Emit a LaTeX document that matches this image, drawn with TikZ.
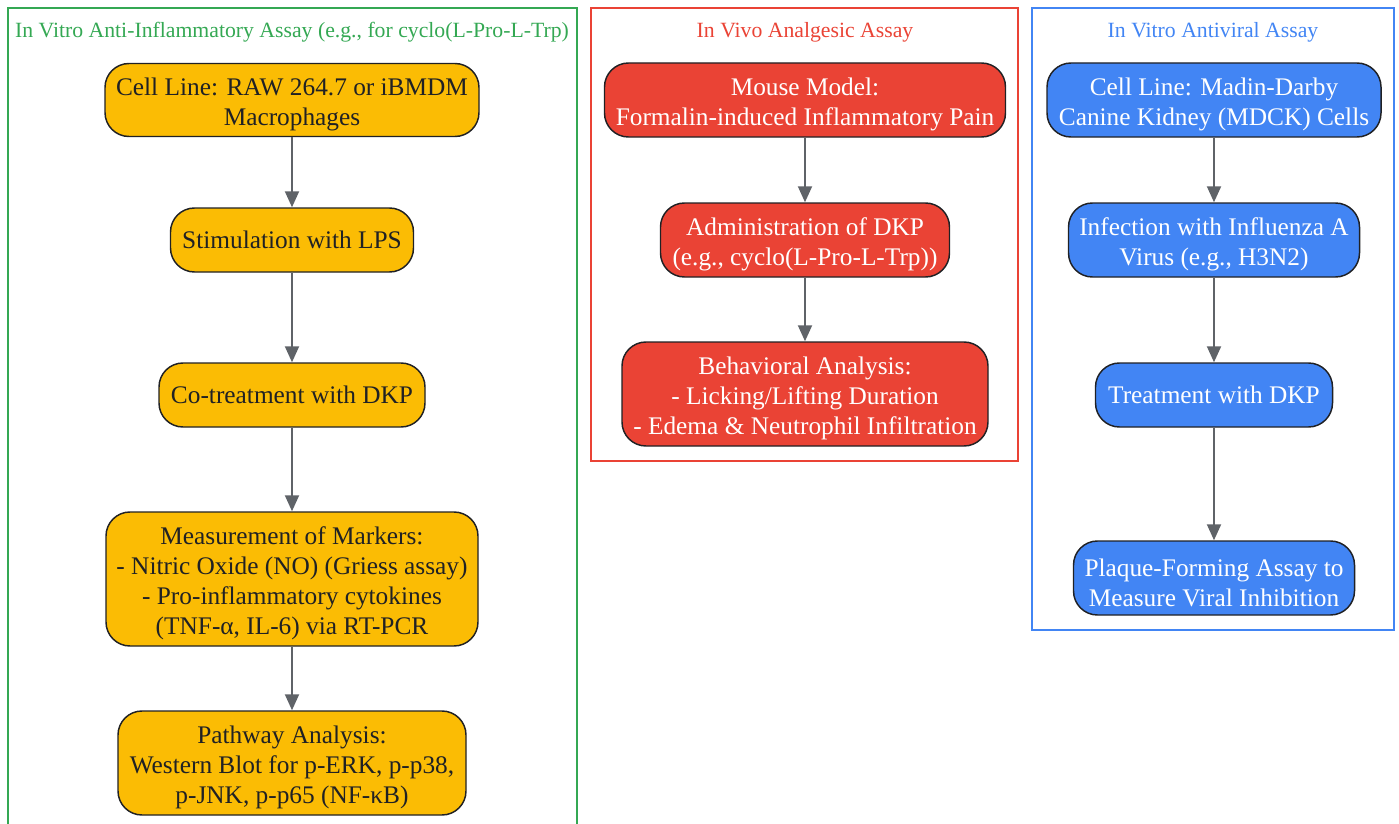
\documentclass[tikz,border=0pt]{standalone}
\usepackage{fontspec}
\setmainfont{Liberation Serif}
\usetikzlibrary{arrows.meta}
\definecolor{cyel}{HTML}{FBBC04}
\definecolor{cred}{HTML}{EA4335}
\definecolor{cblue}{HTML}{4285F4}
\definecolor{cgreen}{HTML}{34A853}
\definecolor{carrow}{HTML}{5F6368}
\definecolor{ctext}{HTML}{202124}
\newcommand\lifttop{\rule{0pt}{20.5pt}}
\begin{document}
\begin{tikzpicture}[x=0.75pt,y=-0.75pt,
  flow/.style={draw=ctext, line width=1.1pt, rounded corners=18pt, align=center,
    inner sep=0pt, font=\fontsize{19}{22.5}\selectfont},
  ybox/.style={flow, fill=cyel, text=ctext},
  rbox/.style={flow, fill=cred, text=white},
  bbox/.style={flow, fill=cblue, text=white},
  sz/.style 2 args={minimum width=#1*0.75pt, minimum height=#2*0.75pt},
  cluster/.style={line width=1.1pt},
  ctitle/.style={font=\fontsize{16.3}{19}\selectfont, inner sep=0pt},
  arr/.style={draw=carrow, line width=1.5pt, -{Triangle[length=12pt,width=10.5pt]}}
]
\useasboundingbox (0,0) rectangle (1399,824);
\clip (0,0) rectangle (1399,824);
% clusters
\draw[cluster, draw=cgreen] (8,8) rectangle (577,850);
\draw[cluster, draw=cred] (591,8) rectangle (1018,461);
\draw[cluster, draw=cblue] (1032,8) rectangle (1394,630);
\node[ctitle, text=cgreen] (tg) at (292,32) {In Vitro Anti-Inflammatory Assay (e.g., for cyclo(L-Pro-L-Trp)};
\node[ctitle, text=cred] (tr) at (805,32) {In Vivo Analgesic Assay};
\node[ctitle, text=cblue] (tb) at (1213,32) {In Vitro Antiviral Assay};
% yellow
\node[ybox, sz={374}{73}] (n1) at (292,100) {\lifttop Cell Line: RAW 264.7 or iBMDM\\Macrophages};
\node[ybox, sz={243}{64}] (n2) at (292,240) {Stimulation with LPS};
\node[ybox, sz={266}{64}] (n3) at (292,395) {Co-treatment with DKP};
\node[ybox, sz={372}{134}] (n4) at (292,579) {\lifttop Measurement of Markers:\\- Nitric Oxide (NO) (Griess assay)\\- Pro-inflammatory cytokines\\(TNF-α, IL-6) via RT-PCR};
\node[ybox, sz={348}{104}] (n5) at (292,763) {\lifttop Pathway Analysis:\\Western Blot for p-ERK, p-p38,\\p-JNK, p-p65 (NF-κB)};
% red
\node[rbox, sz={401}{74}] (r1) at (805,100) {\lifttop Mouse Model:\\Formalin-induced Inflammatory Pain};
\node[rbox, sz={289}{74}] (r2) at (805,240) {\lifttop Administration of DKP\\(e.g., cyclo(L-Pro-L-Trp))};
\node[rbox, sz={366}{104}] (r3) at (805,394) {\lifttop Behavioral Analysis:\\- Licking/Lifting Duration\\- Edema \& Neutrophil Infiltration};
% blue
\node[bbox, sz={334}{74}] (b1) at (1214,100) {\lifttop Cell Line: Madin-Darby\\Canine Kidney (MDCK) Cells};
\node[bbox, sz={291}{74}] (b2) at (1214,240) {\lifttop Infection with Influenza A\\Virus (e.g., H3N2)};
\node[bbox, sz={237}{64}] (b3) at (1214,395) {Treatment with DKP};
\node[bbox, sz={281}{74}] (b4) at (1214,578) {\lifttop Plaque-Forming Assay to\\Measure Viral Inhibition};
% arrows
\draw[arr] (n1) -- (n2);
\draw[arr] (n2) -- (n3);
\draw[arr] (n3) -- (n4);
\draw[arr] (n4) -- (n5);
\draw[arr] (r1) -- (r2);
\draw[arr] (r2) -- (r3);
\draw[arr] (b1) -- (b2);
\draw[arr] (b2) -- (b3);
\draw[arr] (b3) -- (b4);
\end{tikzpicture}
\end{document}
